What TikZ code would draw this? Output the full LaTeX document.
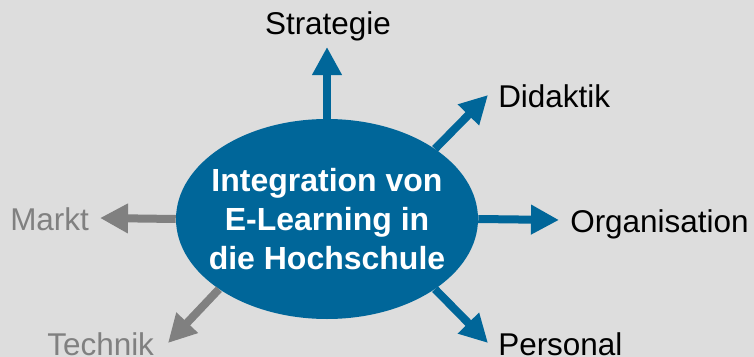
\documentclass[tikz,border=0pt]{standalone}
\usepackage{fontspec}
\setmainfont{Liberation Sans}
\usetikzlibrary{arrows.meta}
\usetikzlibrary{shapes.geometric}
\definecolor{hubblue}{RGB}{0,102,153}
\definecolor{bggray}{RGB}{221,221,221}
\definecolor{armgray}{RGB}{128,128,128}
\begin{document}
\begin{tikzpicture}[
    x=0.75pt, y=-0.75pt,
    >={Triangle[length=21pt,width=21pt]},
    every node/.style={font=\fontsize{23.6}{28}\selectfont},
    hub/.style={ellipse, fill=hubblue, inner sep=0pt,
        minimum width=226.5pt, minimum height=150pt},
    hubtext/.style={text=white, align=center, inner sep=0pt,
        font=\fontsize{24}{29.5}\selectfont\bfseries},
    label/.style={inner sep=0pt},
    arm/.style={->, line width=6pt, hubblue},
    greyarm/.style={->, line width=6pt, armgray}
]

% Background
\fill[bggray] (0,0) rectangle (754,357);
\useasboundingbox (0,0) rectangle (754,357);

% Nodes
\node[hub] (hub) at (327,219) {};
\node[hubtext] (title) at (hub.center) {Integration von\\E-Learning in\\die Hochschule};
\node[label, anchor=base] (strategie) at (328,35) {Strategie};
\node[label, anchor=base west] (didaktik) at (498,107) {Didaktik};
\node[label, anchor=base west] (organisation) at (570,232) {Organisation};
\node[label, anchor=base west] (personal) at (498,355) {Personal};
\node[label, anchor=base west, text=armgray] (markt) at (10,230) {Markt};
\node[label, anchor=base west, text=armgray] (technik) at (47,355) {Technik};

% Arrow tips
\coordinate (strategieTip) at (327,47);
\coordinate (didaktikTip) at (488,95);
\coordinate (organisationTip) at (559,220);
\coordinate (personalTip) at (488,343);
\coordinate (marktTip) at (100,218);
\coordinate (technikTip) at (168,343);

% Edges
\draw[arm] (hub.north) -- (strategieTip);
\draw[arm] (hub.33) -- (didaktikTip);
\draw[arm] (hub.east) -- (organisationTip);
\draw[arm] (hub.-33) -- (personalTip);
\draw[greyarm] (hub.west) -- (marktTip);
\draw[greyarm] (hub.213) -- (technikTip);

\end{tikzpicture}
\end{document}
